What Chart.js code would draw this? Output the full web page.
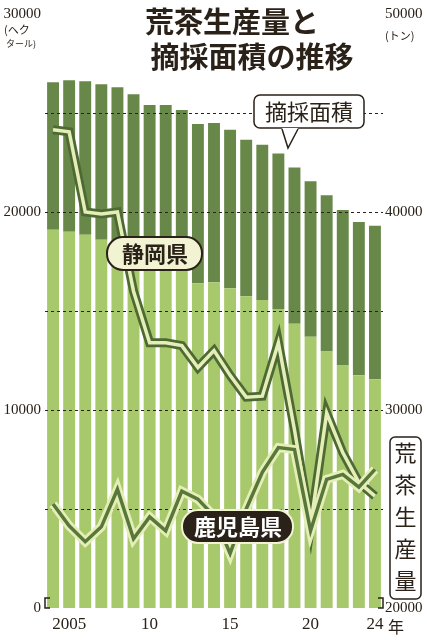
<!DOCTYPE html><html><head><meta charset="utf-8">
<script src="https://cdn.jsdelivr.net/npm/chart.js@4/dist/chart.umd.min.js"></script>
<style>html,body{margin:0;background:#fff}#w{width:427px;height:640px}</style></head><body><div id="w"><canvas id="c"></canvas></div>
<script>
const years=['2004','2005','2006','2007','2008','2009','2010','2011','2012','2013','2014','2015','2016','2017','2018','2019','2020','2021','2022','2023','2024'];
const areaTotal=[26550,26650,26600,26450,26300,25950,25400,25400,25150,24450,24500,24150,23650,23400,22950,22250,21550,20850,20100,19500,19300];
const areaDark=[7450,7650,7750,7850,7950,8000,8000,8000,8000,8050,8050,8000,7900,7850,7850,7900,7850,7900,7850,7750,7750];
const shizuoka=[44150,44050,40000,39900,40000,36000,33400,33400,33250,32150,33000,31750,30650,30700,33400,29000,24150,29850,27850,26350,25650];
const kagoshima=[25250,24150,23350,24100,26000,23500,24600,23900,25900,25500,24650,22750,25000,26850,28100,28000,23900,26500,26750,26100,27000];
const leftTicks=[0,10000,20000,30000];
const rightTicks=[20000,30000,40000,50000];
const gridVals=[5000,10000,15000,20000,25000];
const areaLight=areaTotal.map((t,i)=>t-areaDark[i]);
const F='"Liberation Serif",serif', J='"Noto Sans CJK JP",sans-serif';
function box(ctx,x,y,w,h,r,fill,stroke,lw){ctx.beginPath();ctx.roundRect(x,y,w,h,r);ctx.fillStyle=fill;ctx.fill();ctx.lineWidth=lw;ctx.strokeStyle=stroke;ctx.stroke();}
const dash={id:'dash',afterDatasetDraw(ch,args){if(args.index!==5)return;const c=ch.ctx,a=ch.chartArea,s=ch.scales.y;c.save();
 c.setLineDash([3,3]);c.strokeStyle='#2a2118';c.lineWidth=1;gridVals.forEach(v=>{const y=Math.round(s.getPixelForValue(v))+0.5;c.beginPath();c.moveTo(a.left,y);c.lineTo(a.right,y);c.stroke();});
 c.setLineDash([]);c.lineWidth=1.5;c.beginPath();c.moveTo(a.left+5,a.bottom-10);c.lineTo(a.left,a.bottom-10);c.lineTo(a.left,a.bottom);c.lineTo(a.left+5,a.bottom);c.stroke();
 c.beginPath();c.moveTo(a.right-5,a.bottom-10);c.lineTo(a.right,a.bottom-10);c.lineTo(a.right,a.bottom);c.lineTo(a.right-5,a.bottom);c.stroke();c.restore();}};
const deco={id:'deco',afterDraw(ch){const c=ch.ctx;c.save();
 c.fillStyle='#2a2118';c.font='bold 29px '+J;c.textAlign='center';c.textBaseline='middle';
 c.fillText('荒茶生産量と',232,22);c.fillText('摘採面積の推移',252,57);
 c.font='11px '+J;c.textAlign='left';c.fillText('(ヘク',4,30);c.font='9px '+J;c.fillText('タール)',6,44);
 c.font='11px '+J;c.fillText('(トン)',385,36);
 c.beginPath();c.roundRect(254,95,110,33,6);c.fillStyle='#fff';c.fill();c.strokeStyle='#2a2118';c.lineWidth=1.5;c.stroke();
 c.beginPath();c.moveTo(282,128);c.lineTo(288,148);c.lineTo(298,128);c.fillStyle='#fff';c.fill();
 c.beginPath();c.moveTo(282,129);c.lineTo(288,148);c.lineTo(298,129);c.stroke();
 c.fillStyle='#2a2118';c.font='22px '+J;c.textAlign='center';c.fillText('摘採面積',309,112);
 box(c,107,237,95,33,16,'#f1f3d2','#2a2118',2);c.fillStyle='#2a2118';c.font='bold 22px '+J;c.fillText('静岡県',155,254);
 box(c,182,510,111,33,16,'#2a2118','#f1f3d2',2);c.fillStyle='#fff';c.fillText('鹿児島県',238,527);
 box(c,390,437,31,162,5,'#fff','#2a2118',1.5);c.fillStyle='#2a2118';c.font='22px '+J;
 ['荒','茶','生','産','量'].forEach((s,i)=>c.fillText(s,405.5,453+i*32));
 c.font='16px '+J;c.textAlign='left';c.fillText('年',388,627);
 c.restore();}};
new Chart(document.getElementById('c'),{type:'bar',data:{labels:years,datasets:[
 {type:'line',data:shizuoka,yAxisID:'y2',borderColor:'#4e6a34',borderWidth:9,pointRadius:0,tension:0,order:0,borderJoinStyle:'miter'},
 {type:'line',data:shizuoka,yAxisID:'y2',borderColor:'#e4eeb6',borderWidth:3.5,pointRadius:0,tension:0,order:-1,borderJoinStyle:'miter'},
 {type:'line',data:kagoshima,yAxisID:'y2',borderColor:'#e4eeb6',borderWidth:9,pointRadius:0,tension:0,order:-2,borderJoinStyle:'miter'},
 {type:'line',data:kagoshima,yAxisID:'y2',borderColor:'#58773a',borderWidth:3.5,pointRadius:0,tension:0,order:-3,borderJoinStyle:'miter'},
 {data:areaDark,backgroundColor:'#68884a',stack:'a',yAxisID:'y',order:6,barPercentage:0.74,categoryPercentage:1},
 {data:areaLight,backgroundColor:'#a8c86c',stack:'a',yAxisID:'y',order:5,barPercentage:0.74,categoryPercentage:1}]},
 options:{responsive:true,maintainAspectRatio:false,animation:false,layout:{padding:{top:14,left:0,right:0,bottom:0}},
 plugins:{legend:{display:false},tooltip:{enabled:false}},
 scales:{x:{stacked:true,grid:{display:false,drawTicks:false},border:{display:false},afterFit(s){s.height=32;},
   ticks:{autoSkip:false,maxRotation:0,color:'#2a2118',font:{family:F,size:17},padding:6,
   callback:(v,i)=>{const y=years[i];return y==='2005'?'2005':['2010','2015','2020','2024'].includes(y)?y.slice(2):'';}}},
  y:{stacked:true,min:0,max:30000,afterFit(s){s.width=45;},afterBuildTicks(s){s.ticks=leftTicks.map(v=>({value:v}));},
   grid:{display:false,drawTicks:false},border:{display:false},
   ticks:{color:'#2a2118',font:{family:F,size:15},padding:4,callback:v=>String(v)}},
  y2:{position:'right',min:20000,max:50000,stacked:false,afterFit(s){s.width=44;},afterBuildTicks(s){s.ticks=rightTicks.map(v=>({value:v}));},
   grid:{display:false,drawTicks:false},border:{display:false},ticks:{color:'#2a2118',font:{family:F,size:15},padding:2,callback:v=>String(v)}}}},
 plugins:[dash,deco]});
</script></body></html>
